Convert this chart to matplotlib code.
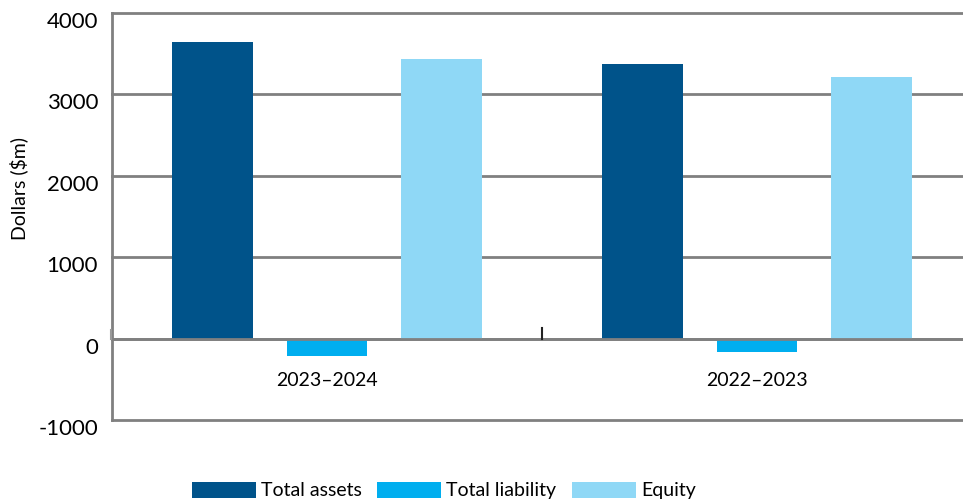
import numpy as np
import matplotlib.pyplot as plt
import matplotlib.transforms as mtransforms

years = ["2023–2024", "2022–2023"]
series = ["Total assets", "Total liability", "Equity"]
total_assets = [3644, 3374]
total_liability = [-209, -160]
equity = [3436, 3215]
colors = ["#00538A", "#00AEEF", "#8FD8F6"]

plt.rcParams["font.family"] = ["Lato", "DejaVu Sans"]
plt.rcParams["axes.unicode_minus"] = False

fig = plt.figure(figsize=(9.63, 4.99), dpi=100)
# axes spans past the right edge so the last category is cut off
ax = fig.add_axes([112 / 963, 1 - 420 / 499, 860 / 963, 407 / 499])

x = np.arange(len(years))
w = 0.188
off = 0.266
for i, (vals, c) in enumerate(zip([total_assets, total_liability, equity], colors)):
    ax.bar(x + (i - 1) * off, vals, width=w, color=c, label=series[i], zorder=3)

ax.set_xlim(-0.5, 1.5)
ax.set_ylim(-1000, 4000)
ax.set_yticks([-1000, 0, 1000, 2000, 3000, 4000])
ax.yaxis.grid(True, color="#808080", linewidth=2, zorder=1)
for gl in ax.get_ygridlines():
    gl.set_clip_on(False)
ax.tick_params(axis="y", length=0, labelsize=16, pad=10)
for lbl in ax.get_yticklabels():
    lbl.set_transform(lbl.get_transform() + mtransforms.ScaledTranslation(0, -7 / 100, fig.dpi_scale_trans))

for s in ["top", "right", "bottom"]:
    ax.spines[s].set_visible(False)
ax.spines["left"].set_color("#808080")
ax.spines["left"].set_linewidth(2)
ax.axhline(0, color="#808080", linewidth=2, zorder=4)

# boundary ticks rising from the zero line
ax.plot([0.5, 0.5], [0, 125], color="#222222", linewidth=1.5, zorder=5)
ax.plot([-0.503, -0.503], [0, 110], color="#999999", linewidth=1.5, zorder=5, clip_on=False)
ax.set_xticks([])
for xi, yr in zip(x, years):
    ax.text(xi, -515, yr, ha="center", va="center", fontsize=14)

ax.set_ylabel("Dollars ($m)", fontsize=14)
ax.yaxis.set_label_coords(-84 / 860, 0.57)

fig.legend(loc="lower left", bbox_to_anchor=(174 / 963, -0.036), ncol=3, frameon=False,
           fontsize=14, handlelength=3.3, handleheight=0.9, handletextpad=0.26,
           columnspacing=0.8)

fig.savefig("out.png", dpi=100)
